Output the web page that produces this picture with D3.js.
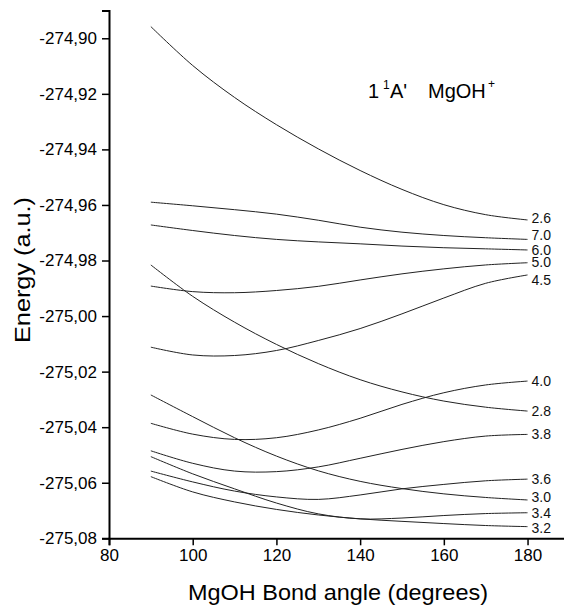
<!DOCTYPE html>
<html>
<head>
<meta charset="utf-8">
<script src="https://cdn.jsdelivr.net/npm/d3@7"></script>
<style>
  html, body { margin: 0; padding: 0; background: #fff; }
  svg { display: block; font-family: Arial, "Liberation Sans", Helvetica, sans-serif; }
</style>
</head>
<body>
<svg id="chart" width="564" height="607"></svg>
<script>
// ---- data ----
const angles = [90, 100, 110, 120, 130, 140, 150, 160, 170, 180];
const labels = ["2.6", "7.0", "6.0", "5.0", "4.5", "4.0", "2.8", "3.8", "3.6", "3.0", "3.4", "3.2"];
const s2_6 = [-274.8958, -274.9098, -274.9213, -274.9311, -274.9398, -274.9476, -274.9544, -274.9599, -274.9635, -274.9654];
const s7_0 = [-274.9590, -274.9603, -274.9617, -274.9633, -274.9655, -274.9680, -274.9698, -274.9710, -274.9718, -274.9724];
const s6_0 = [-274.9672, -274.9692, -274.9710, -274.9724, -274.9733, -274.9740, -274.9748, -274.9754, -274.9758, -274.9762];
const s5_0 = [-274.9892, -274.9912, -274.9916, -274.9908, -274.9893, -274.9870, -274.9848, -274.9830, -274.9816, -274.9808];
const s4_5 = [-275.0112, -275.0140, -275.0142, -275.0124, -275.0088, -275.0045, -274.9992, -274.9935, -274.9882, -274.9852];
const s4_0 = [-275.0386, -275.0425, -275.0444, -275.0438, -275.0410, -275.0368, -275.0318, -275.0276, -275.0248, -275.0234];
const s2_8 = [-274.9816, -274.9929, -275.0022, -275.0102, -275.0171, -275.0229, -275.0273, -275.0306, -275.0328, -275.0342];
const s3_8 = [-275.0485, -275.0530, -275.0558, -275.0560, -275.0543, -275.0512, -275.0480, -275.0452, -275.0432, -275.0426];
const s3_6 = [-275.0558, -275.0597, -275.0630, -275.0651, -275.0660, -275.0644, -275.0622, -275.0606, -275.0593, -275.0587];
const s3_0 = [-275.0284, -275.0362, -275.0438, -275.0504, -275.0557, -275.0595, -275.0621, -275.0640, -275.0653, -275.0662];
const s3_4 = [-275.0506, -275.0568, -275.0622, -275.0673, -275.0712, -275.0730, -275.0727, -275.0718, -275.0711, -275.0708];
const s3_2 = [-275.0578, -275.0633, -275.0669, -275.0696, -275.0716, -275.0730, -275.0739, -275.0747, -275.0754, -275.0758];
const seriesValues = [s2_6, s7_0, s6_0, s5_0, s4_5, s4_0, s2_8, s3_8, s3_6, s3_0, s3_4, s3_2];

const xMajorTicks = [80, 100, 120, 140, 160, 180];
const xMinorTicks = [90, 110, 130, 150, 170, 190];
const yMajorTicks = [-275.08, -275.06, -275.04, -275.02, -275.00, -274.98, -274.96, -274.94, -274.92, -274.90];
const yMinorTicks = [-275.07, -275.05, -275.03, -275.01, -274.99, -274.97, -274.95, -274.93, -274.91, -274.89];

const xTitle = "MgOH Bond angle (degrees)";
const yTitle = "Energy (a.u.)";

// ---- layout / style (not data) ----
const labelNudge = [-2, -4, 0, -1, 5, 0, 0, 0, 0, -3, 0, 1];

const svg = d3.select("#chart");
const x = d3.scaleLinear().domain([80, 190]).range([109, 569.4]);
const y = d3.scaleLinear().domain([-275.08, -274.89]).range([538.3, 10.5]);
const fmt = v => d3.format(".2f")(v).replace("\u2212", "-").replace(".", ",");

// Curves
const line = d3.line()
  .x(d => x(d[0]))
  .y(d => y(d[1]))
  .curve(d3.curveCatmullRom.alpha(0.5));

const g = svg.append("g");
seriesValues.forEach((vals, i) => {
  const pts = angles.map((a, j) => [a, vals[j]]);
  g.append("path")
    .attr("d", line(pts))
    .attr("fill", "none")
    .attr("stroke", "#222")
    .attr("stroke-width", 1);
  g.append("text")
    .attr("x", x(180) + 4)
    .attr("y", y(vals[vals.length - 1]) + labelNudge[i])
    .attr("dy", "0.35em")
    .attr("font-size", 14)
    .attr("fill", "#111")
    .text(labels[i]);
});

// X axis
const xAxisG = svg.append("g").attr("transform", `translate(0,${y(-275.08)})`);
xAxisG.call(d3.axisBottom(x).tickValues(xMinorTicks).tickSize(4).tickFormat(""));
xAxisG.call(d3.axisBottom(x).tickValues(xMajorTicks).tickSize(7).tickPadding(4).tickFormat(d3.format("d")));
xAxisG.selectAll(".domain").attr("stroke", "#000").attr("stroke-width", 2);
xAxisG.selectAll(".tick line").attr("stroke", "#000").attr("stroke-width", 1.5);
xAxisG.selectAll(".tick text").attr("font-size", 17).attr("fill", "#000")
  .attr("font-family", "Arial, 'Liberation Sans', sans-serif");

// Y axis
const yAxisG = svg.append("g").attr("transform", `translate(${x(80)},0)`);
yAxisG.call(d3.axisLeft(y).tickValues(yMinorTicks).tickSize(4).tickFormat(""));
yAxisG.call(d3.axisLeft(y).tickValues(yMajorTicks).tickSize(7).tickPadding(5).tickFormat(fmt));
yAxisG.selectAll(".domain").attr("stroke", "#000").attr("stroke-width", 2);
yAxisG.selectAll(".tick line").attr("stroke", "#000").attr("stroke-width", 1.5);
yAxisG.selectAll(".tick text").attr("font-size", 17).attr("fill", "#000")
  .attr("font-family", "Arial, 'Liberation Sans', sans-serif");

// Axis titles
svg.append("text")
  .attr("x", 338).attr("y", 600)
  .attr("text-anchor", "middle")
  .attr("font-size", 22)
  .attr("textLength", 300).attr("lengthAdjust", "spacingAndGlyphs")
  .text(xTitle);

svg.append("text")
  .attr("transform", "translate(30,270) rotate(-90)")
  .attr("text-anchor", "middle")
  .attr("font-size", 22)
  .attr("textLength", 146).attr("lengthAdjust", "spacingAndGlyphs")
  .text(yTitle);

// Title: 1 ¹A'  MgOH⁺
const t = svg.append("text").attr("y", 98).attr("font-size", 20).attr("fill", "#000");
t.append("tspan").attr("x", 368).text("1");
t.append("tspan").attr("x", 383).attr("y", 89).attr("font-size", 12).text("1");
t.append("tspan").attr("x", 390).attr("y", 98).text("A'");
t.append("tspan").attr("x", 428).text("MgOH");
t.append("tspan").attr("x", 488).attr("y", 88).attr("font-size", 12).text("+");
</script>
</body>
</html>
